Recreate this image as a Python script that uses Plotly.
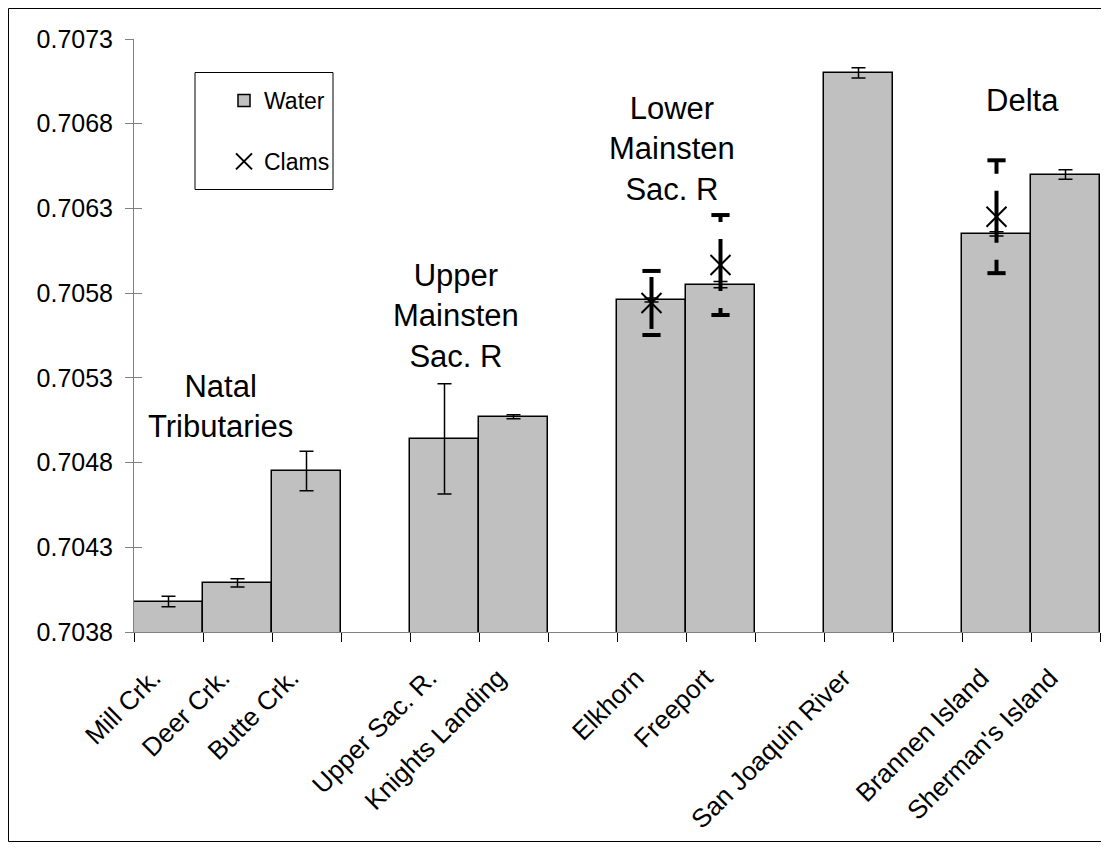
import plotly.graph_objects as go

# ---- data ----
axis_order = ["Mill Crk.", "Deer Crk.", "Butte Crk.", " ",
              "Upper Sac. R.", "Knights Landing", "  ",
              "Elkhorn", "Freeport", "   ",
              "San Joaquin River", "    ",
              "Brannen Island", "Sherman's Island"]

sites = ["Mill Crk.", "Deer Crk.", "Butte Crk.", "Upper Sac. R.", "Knights Landing",
         "Elkhorn", "Freeport", "San Joaquin River", "Brannen Island", "Sherman's Island"]
water = [0.70398, 0.70409, 0.70475, 0.70494, 0.70507,
         0.70576, 0.70585, 0.70710, 0.70615, 0.70650]
water_err = [0.000031, 0.000025, 0.000117, 0.000325, 0.000012,
             0.000012, 0.000018, 0.000030, 0.000012, 0.000028]

clam_sites = ["Elkhorn", "Freeport", "Brannen Island"]
clams = [0.705742, 0.705966, 0.706251]
clam_err = [0.000189, 0.000295, 0.000333]

y_ticks = [0.7038, 0.7043, 0.7048, 0.7053, 0.7058, 0.7063, 0.7068, 0.7073]

groups = [("Natal<br>Tributaries", 0.75, 0.70513),
          ("Upper<br>Mainsten<br>Sac. R", 4.17, 0.705665),
          ("Lower<br>Mainsten<br>Sac. R", 7.3, 0.706650),
          ("Delta", 12.38, 0.706935)]

FONT = "Arial, Liberation Sans, sans-serif"
NBSP = "\u00a0"

W, H = 1101, 834
ML, MT, MR, MB = 126, 31, 9, 210
PW = W - ML - MR
PH = H - MT - MB


def px_x(page_x):
    return (page_x - 8 - ML) / PW


def px_y(page_y):
    return 1 - (page_y - 8 - MT) / PH


# tick label text: padded with non-breaking spaces so the rotated labels sit lower-left
tick_text = [(c + NBSP * 3) if c.strip() else "" for c in axis_order]

fig = go.Figure()

fig.add_trace(go.Bar(
    x=sites, y=water, name="Water", legendgroup="w",
    marker=dict(color="#C0C0C0", line=dict(color="black", width=1.5)),
    error_y=dict(type="data", array=water_err, color="black", thickness=1.5, width=7),
))

# dashed clam error bars, drawn outward from the centre
ex, ey, cx, cy = [], [], [], []
for s, c, e in zip(clam_sites, clams, clam_err):
    ex += [s, s, None, s, s, None]
    ey += [c, c + e, None, c, c - e, None]
    cx += [s, s]
    cy += [c + e, c - e]
fig.add_trace(go.Scatter(x=ex, y=ey, mode="lines", showlegend=False, hoverinfo="skip",
                         line=dict(color="black", width=4, dash="26px,17px")))
fig.add_trace(go.Scatter(x=cx, y=cy, mode="markers", showlegend=False, hoverinfo="skip",
                         marker=dict(symbol="line-ew", size=13, color="black",
                                     line=dict(color="black", width=4))))

fig.add_trace(go.Scatter(
    x=clam_sites, y=clams, mode="markers", name="Clams", legendgroup="c",
    marker=dict(symbol="x-thin", size=20, color="black", line=dict(color="black", width=2)),
))

# invisible trace carrying the inside half of the crossing y ticks
fig.add_trace(go.Scatter(x=[sites[0]], y=[None], yaxis="y2", showlegend=False,
                         hoverinfo="skip", mode="markers"))

for text, xi, yv in groups:
    fig.add_annotation(x=xi, y=yv, xref="x", yref="y", text=text, showarrow=False,
                       font=dict(family=FONT, size=31, color="black"),
                       xanchor="center", yanchor="middle", align="center")

# outer frame
fig.add_shape(type="rect", xref="paper", yref="paper",
              x0=(0.5 - ML) / PW, x1=(W - 0.5 - ML) / PW,
              y0=-(H - 0.5 - MT - PH) / PH, y1=1 + (MT - 0.5) / PH,
              line=dict(color="black", width=1), fillcolor="rgba(0,0,0,0)")
# legend box
fig.add_shape(type="rect", xref="paper", yref="paper",
              x0=px_x(195), x1=px_x(333), y0=px_y(189.5), y1=px_y(72.5),
              line=dict(color="black", width=1), fillcolor="white", layer="below")

fig.update_layout(
    width=W, height=H,
    margin=dict(l=ML, r=MR, t=MT, b=MB, pad=0),
    paper_bgcolor="white", plot_bgcolor="rgba(0,0,0,0)",
    bargap=0, font=dict(family=FONT, size=25, color="black"),
    showlegend=True,
    legend=dict(x=px_x(197), y=px_y(79),
                xanchor="left", yanchor="top",
                bgcolor="rgba(0,0,0,0)", borderwidth=0,
                font=dict(family=FONT, size=23, color="black"),
                tracegroupgap=28, indentation=27, itemwidth=30),
    xaxis=dict(type="category", categoryorder="array", categoryarray=axis_order,
               range=[-0.5, len(axis_order) - 0.5],
               tickmode="array", tickvals=axis_order, ticktext=tick_text,
               tickson="boundaries", ticks="outside", ticklen=9, tickcolor="black",
               showline=True, linecolor="#808080", linewidth=1,
               showgrid=False, zeroline=False, tickangle=-45,
               tickfont=dict(family=FONT, size=26, color="black"),
               ticklabelstandoff=4),
    yaxis=dict(range=[0.7038, 0.7073], tickvals=y_ticks, tickformat=".4f",
               ticks="outside", ticklen=8, tickcolor="#808080",
               showline=True, linecolor="#808080", linewidth=1,
               showgrid=False, zeroline=False,
               tickfont=dict(family=FONT, size=25, color="black"),
               ticklabelstandoff=7),
    yaxis2=dict(range=[0.7038, 0.7073], tickvals=y_ticks, overlaying="y", side="left",
                ticks="inside", ticklen=8, tickcolor="#808080",
                showticklabels=False, showline=False, showgrid=False, zeroline=False),
)

fig.write_html("out.html")
